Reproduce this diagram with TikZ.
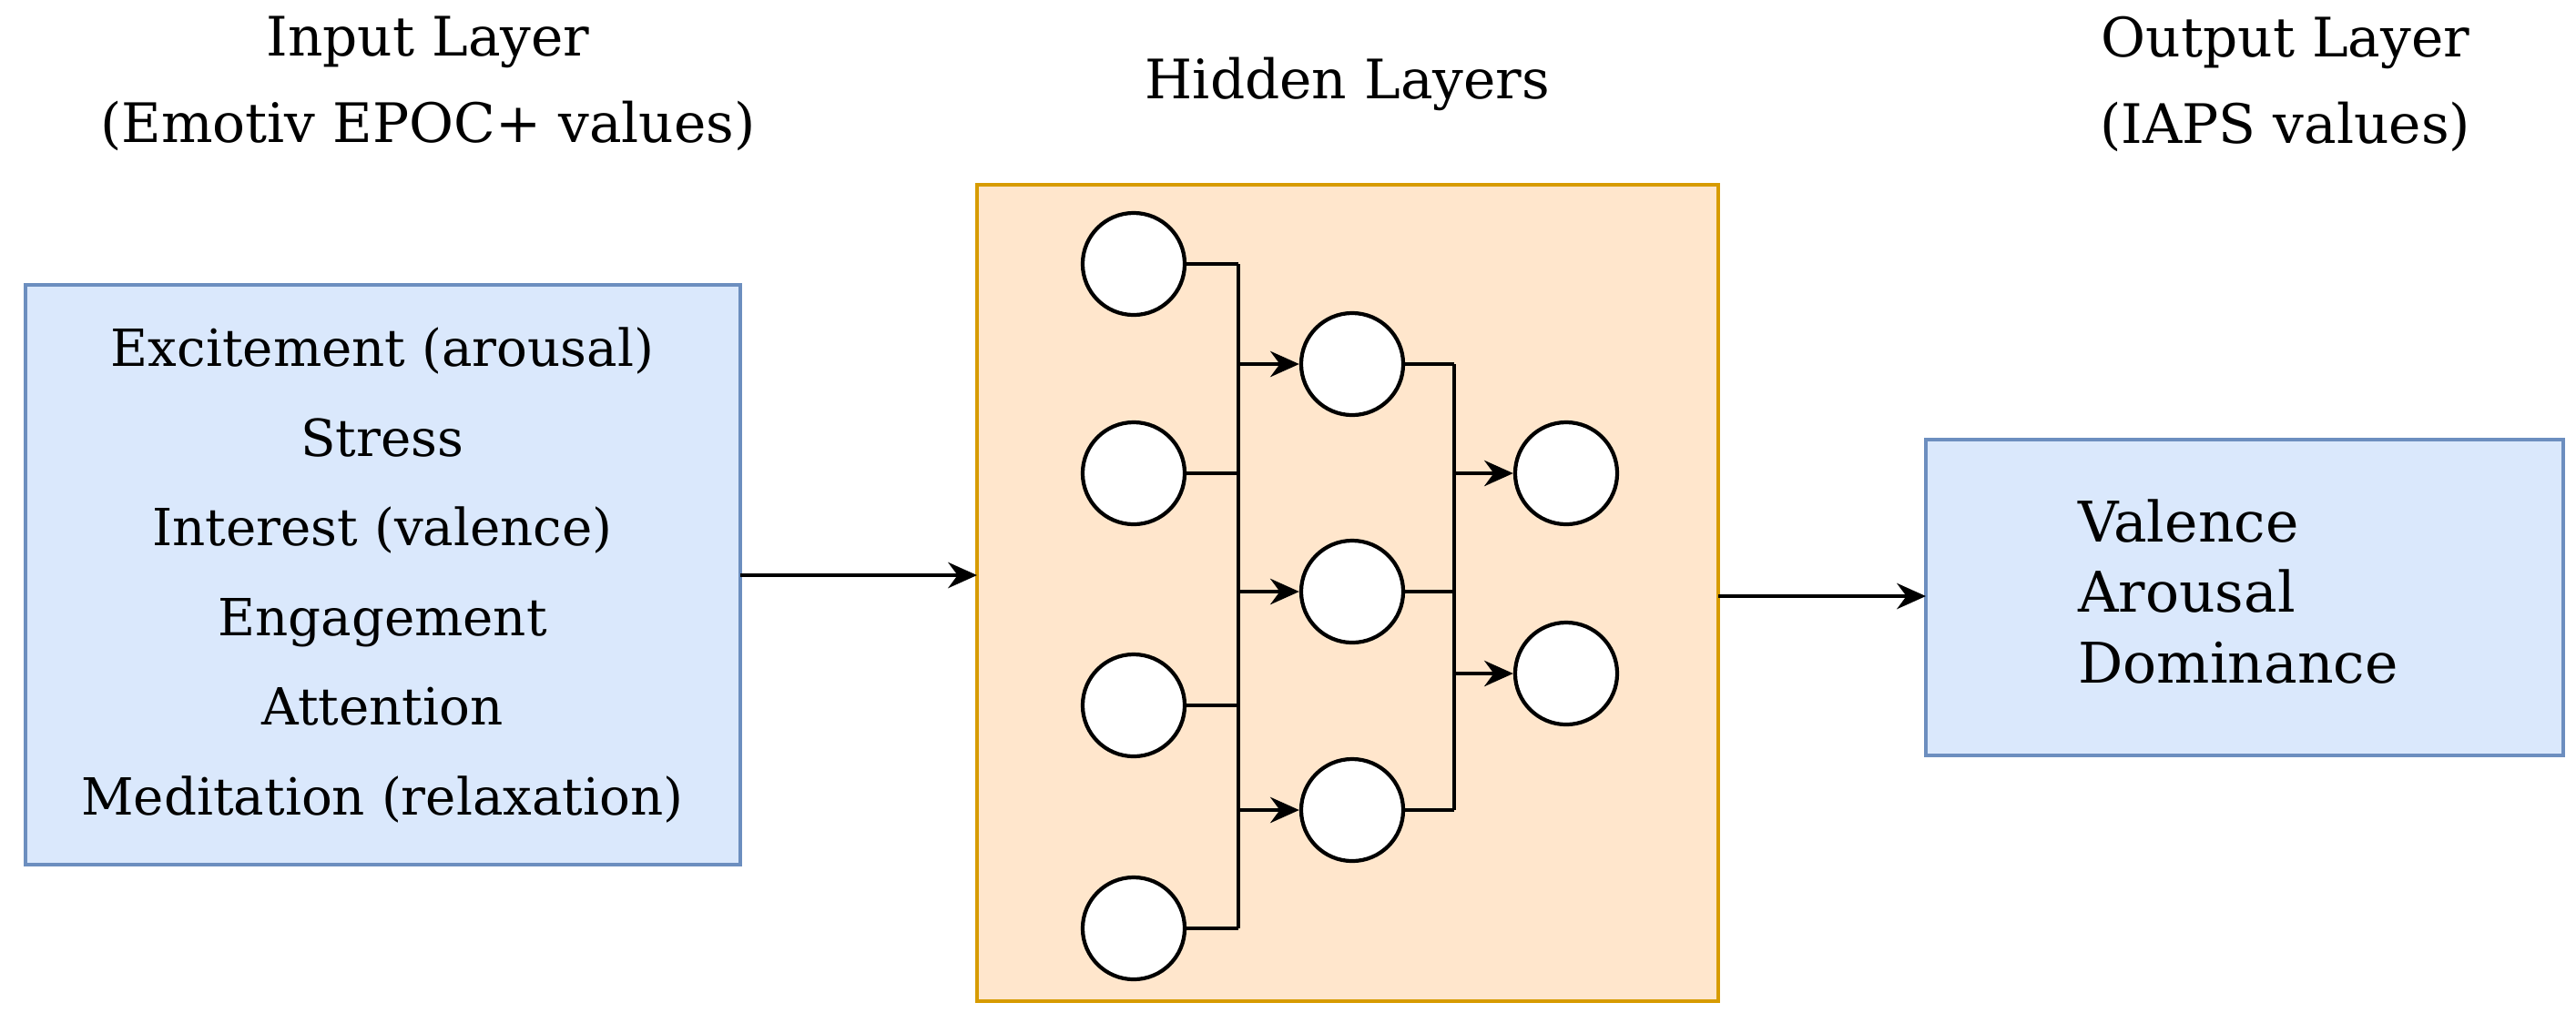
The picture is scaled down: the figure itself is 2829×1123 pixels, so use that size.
\documentclass[tikz,border=0pt]{standalone}
\usepackage{fontspec}
\setmainfont{DejaVu Serif}
\usetikzlibrary{arrows.meta}
\definecolor{bfill}{HTML}{DAE8FC}\definecolor{bdraw}{HTML}{6C8EBF}
\definecolor{ofill}{HTML}{FFE6CC}\definecolor{odraw}{HTML}{D79B00}
\begin{document}
\begin{tikzpicture}[x=0.01cm,y=-0.01cm,
 box/.style={draw=bdraw,fill=bfill,line width=1.2pt},
 neu/.style={circle,draw,fill=white,line width=1.2pt,minimum size=1.12cm,inner sep=0},
 txt/.style={font=\fontsize{17}{27}\selectfont,align=center},
 arr/.style={-{Stealth[length=9pt,width=8pt]},line width=1.4pt},
 ln/.style={line width=1.4pt}]
\useasboundingbox (0,0) rectangle (2829,1123);
\node[txt] (t1) at (470,92) {Input Layer\\(Emotiv EPOC+ values)};
\node[txt] (t2) at (1480,92) {Hidden Layers};
\node[txt] (t3) at (2510,92) {Output Layer\\(IAPS values)};
\draw[box] (28,313) rectangle (813,950);
\node[txt,font=\fontsize{16}{28}\selectfont] (in) at (420,632) {Excitement (arousal)\\Stress\\Interest (valence)\\Engagement\\Attention\\Meditation (relaxation)};
\draw[box] (2115,483) rectangle (2815,830);
\node[txt,align=left,anchor=west,font=\fontsize{17.5}{22}\selectfont] (out) at (2270,650) {Valence\\Arousal\\Dominance};
\draw[draw=odraw,fill=ofill,line width=1.4pt] (1073,203) rectangle (1887,1100);
\coordinate (ia) at (813,632); \coordinate (ha) at (1073,632);
\coordinate (hb) at (1887,655); \coordinate (ob) at (2115,655);
\draw[arr] (ia) -- (ha);
\draw[arr] (hb) -- (ob);
\foreach \i/\y in {1/290,2/520,3/775,4/1020}{\node[neu] (a\i) at (1245,\y) {};}
\foreach \i/\y in {1/400,2/650,3/890}{\node[neu] (b\i) at (1485,\y) {};}
\foreach \i/\y in {1/520,2/740}{\node[neu] (c\i) at (1720,\y) {};}
\coordinate (u1) at (1360,290); \coordinate (u2) at (1360,1020);
\coordinate (v1) at (1597,400); \coordinate (v2) at (1597,890);
\foreach \i in {1,2,3,4}{\draw[ln] (a\i.east) -- (a\i.east -| u1);}
\draw[ln] (u1) -- (u2);
\foreach \i in {1,2,3}{\draw[arr] (b\i.west -| u1) -- (b\i.west); \draw[ln] (b\i.east) -- (b\i.east -| v1);}
\draw[ln] (v1) -- (v2);
\foreach \i in {1,2}{\draw[arr] (c\i.west -| v1) -- (c\i.west);}
\end{tikzpicture}
\end{document}
